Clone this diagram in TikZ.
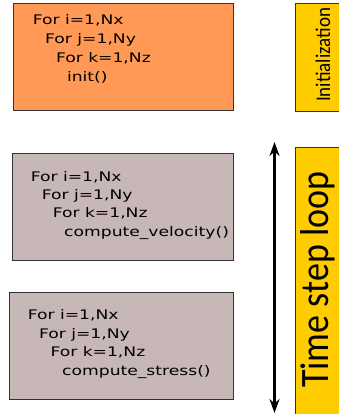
\documentclass[tikz,border=0pt]{standalone}
\usepackage{fontspec}
\newfontfamily\codefont[FakeStretch=1.3]{DejaVu Sans}
\newfontfamily\labfont{Carlito}
\usetikzlibrary{arrows.meta}
\definecolor{boxorange}{HTML}{FF9955}
\definecolor{boxgray}{HTML}{C8B7B7}
\definecolor{boxyellow}{HTML}{FFCC00}
\definecolor{edgecol}{HTML}{333333}
\begin{document}
\begin{tikzpicture}[x=1pt,y=-1pt,
  codebox/.style={draw=edgecol, line width=1pt, anchor=north west, inner sep=0pt},
  labbox/.style={draw=edgecol, line width=1pt, fill=boxyellow, anchor=north west, inner sep=0pt},
  codeline/.style={anchor=base west, inner sep=0pt, font=\codefont\fontsize{13.2}{16}\selectfont},
  sidelab/.style={rotate=90, anchor=base west, inner sep=0pt}]
\useasboundingbox (0,0) rectangle (339,414);
\clip (0,0) rectangle (339,414);
% code boxes
\node[codebox, fill=boxorange, minimum width=220pt, minimum height=107pt] (b1) at (13,3) {};
\node[codebox, fill=boxgray, minimum width=221pt, minimum height=107pt] (b2) at (12,153) {};
\node[codebox, fill=boxgray, minimum width=224pt, minimum height=107pt] (b3) at (9,292) {};
% box 1 text
\node[codeline] (b1l1) at (32.6,25) {For i=1,Nx};
\node[codeline] (b1l2) at (45,44) {For j=1,Ny};
\node[codeline] (b1l3) at (55.8,63) {For k=1,Nz};
\node[codeline] (b1l4) at (66.8,82) {init()};
% box 2 text
\node[codeline] (b2l1) at (30.6,181) {For i=1,Nx};
\node[codeline] (b2l2) at (41.6,199) {For j=1,Ny};
\node[codeline] (b2l3) at (52.6,217.5) {For k=1,Nz};
\node[codeline] (b2l4) at (64,236) {compute\_velocity()};
% box 3 text
\node[codeline] (b3l1) at (27.6,319.5) {For i=1,Nx};
\node[codeline] (b3l2) at (38.8,338) {For j=1,Ny};
\node[codeline] (b3l3) at (50.3,356.5) {For k=1,Nz};
\node[codeline] (b3l4) at (62,375) {compute\_stress()};
% side label boxes
\node[labbox, minimum width=60pt, minimum height=108pt] (initbox) at (295,3) {};
\node[labbox, minimum width=60pt, minimum height=280pt] (loopbox) at (295,147) {};
\node[sidelab, font=\labfont\fontsize{19}{22}\selectfont] (initlab) at (330,102) {\scalebox{1}[1.1]{Initialization}};
\node[sidelab, font=\labfont\fontsize{36}{40}\selectfont] (looplab) at (328,388) {\scalebox{1}[1.12]{Time step loop}};
% loop arrow
\coordinate (atop) at (274.5,142);
\coordinate (abot) at (274.5,413);
\draw[line width=3pt, {Stealth[length=14pt,width=10pt]}-{Stealth[length=14pt,width=10pt]}] (atop) -- (abot);
\end{tikzpicture}
\end{document}
